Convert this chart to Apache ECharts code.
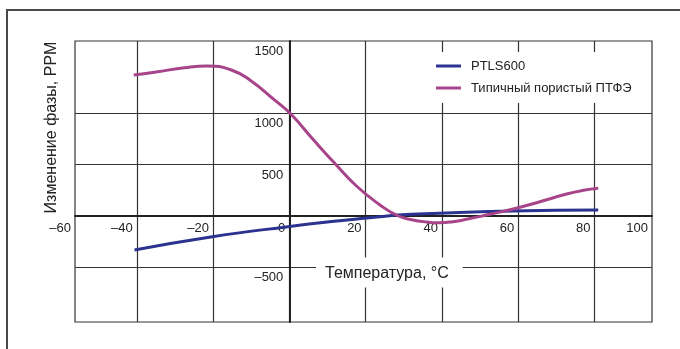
<!DOCTYPE html>
<html>
<head>
<meta charset="utf-8">
<script src="https://cdn.jsdelivr.net/npm/echarts@6/dist/echarts.min.js"></script>
<style>
  html, body { margin: 0; padding: 0; background: #fff; }
  #chart { width: 680px; height: 349px; }
</style>
</head>
<body>
<div id="chart"></div>
<script>
// ---- Data ----
const ptfeTemp  = [-40.8, -34.5, -27.5, -21.5, -15.2, -10, -3.9, 0.2, 6.2, 11.9, 17.6, 23.7, 28.3, 32.4, 36, 39.4, 42.9, 46.5, 52.6, 58.7, 65.7, 72.7, 77.1, 81];
const ptfeValue = [1373, 1405, 1444, 1461, 1422, 1315, 1130, 1000, 747, 513, 292, 110, 5, -39, -58, -65, -55, -32, 17, 68, 139, 214, 250, 270];
const ptlsTemp  = [-40.6, -20.2, -0.4, 13.2, 23.7, 28.4, 39.4, 58.6, 81];
const ptlsValue = [-331, -202, -104, -46, -7, 10, 26, 49, 58];

const seriesNames = ['PTLS600', 'Типичный пористый ПТФЭ'];
const xAxisTitle = 'Температура, °C';
const yAxisTitle = 'Изменение фазы, PPM';

// axis extents (the frame edges) and tick labels
const X_MIN = -56.2, X_MAX = 95.1;
const Y_MIN = -1032, Y_MAX = 1704;
const xGridValues = [-40, -20, 0, 20, 40, 60, 80];
const xLabelValues = [X_MIN, -40, -20, 0, 20, 40, 60, 80, X_MAX];
const xLabelTexts  = ['\u201360', '\u201340', '\u201320', '0', '20', '40', '60', '80', '100'];
const yGridValues = [-500, 0, 500, 1000];
const yLabelValues = [Y_MAX, 1000, 500, -500];
const yLabelTexts  = ['1500', '1000', '500', '\u2013500'];

function pairs(xs, ys) { return xs.map((x, i) => [x, ys[i]]); }
function lookup(vals, texts, v) {
  for (let i = 0; i < vals.length; i++) if (Math.abs(vals[i] - v) < 1e-6) return texts[i];
  return '';
}

const FONT = 'Liberation Sans, Arial, sans-serif';
const INK = '#222';
const GRIDC = '#333';

const W = 680, H = 349;
const G = { left: 75, right: 28, top: 41, bottom: 27 };
const gridW = W - G.left - G.right, gridH = H - G.top - G.bottom;
// move the axes onto the zero lines
const xAxisOffset = -((0 - Y_MIN) / (Y_MAX - Y_MIN)) * gridH;
const yAxisOffset = -((0 - X_MIN) / (X_MAX - X_MIN)) * gridW;

const chart = echarts.init(document.getElementById('chart'), null, { renderer: 'canvas' });
chart.setOption({
  animation: false,
  backgroundColor: '#fff',
  textStyle: { fontFamily: FONT },
  grid: {
    left: G.left, right: G.right, top: G.top, bottom: G.bottom,
    show: true, borderColor: GRIDC, borderWidth: 1.2,
    containLabel: false, outerBoundsMode: 'none'
  },
  title: {
    text: xAxisTitle,
    left: 316, top: 258,
    padding: [8, 14, 6, 9],
    backgroundColor: '#fff',
    textStyle: { fontFamily: FONT, fontSize: 16, fontWeight: 'normal', color: INK, lineHeight: 15 }
  },
  legend: {
    orient: 'vertical',
    left: 430, top: 52,
    padding: [6, 6, 7, 6],
    backgroundColor: '#fff',
    icon: 'rect',
    itemWidth: 25, itemHeight: 3,
    itemGap: 6,
    textStyle: { fontFamily: FONT, fontSize: 13, color: INK, lineHeight: 16, padding: [0, 0, 0, 5] },
    data: seriesNames
  },
  graphic: [
    { type: 'rect', z: 100, silent: true,
      shape: { x: 7, y: 10, width: 900, height: 600 },
      style: { fill: 'none', stroke: '#4a4a4a', lineWidth: 2 } },
    { type: 'text', z: 100, x: 52, y: 127.5, rotation: Math.PI / 2,
      style: { text: yAxisTitle, fontFamily: FONT, fontSize: 16, fill: INK, align: 'center', verticalAlign: 'middle' } }
  ],
  xAxis: {
    type: 'value', min: X_MIN, max: X_MAX,
    position: 'bottom', offset: xAxisOffset,
    axisLine: { show: true, onZero: false, lineStyle: { color: INK, width: 2 } },
    axisTick: { show: false, customValues: xGridValues },
    splitLine: { show: true, lineStyle: { color: GRIDC, width: 1.2 } },
    axisLabel: {
      customValues: xLabelValues,
      formatter: v => lookup(xLabelValues, xLabelTexts, v),
      fontFamily: FONT, fontSize: 13, color: INK,
      align: 'right', verticalAlign: 'top', margin: 6, padding: [0, 4, 0, 0]
    }
  },
  yAxis: {
    type: 'value', min: Y_MIN, max: Y_MAX,
    position: 'left', offset: yAxisOffset,
    axisLine: { show: true, onZero: false, lineStyle: { color: INK, width: 2 } },
    axisTick: { show: false, customValues: yGridValues },
    splitLine: { show: true, lineStyle: { color: GRIDC, width: 1.2 } },
    axisLabel: {
      customValues: yLabelValues,
      formatter: v => lookup(yLabelValues, yLabelTexts, v),
      fontFamily: FONT, fontSize: 13, color: INK,
      align: 'right', verticalAlign: 'top', margin: 6, padding: [4, 0, 0, 0]
    }
  },
  series: [
    { name: seriesNames[0], type: 'line', data: pairs(ptlsTemp, ptlsValue),
      smooth: 0.5, showSymbol: false, color: '#2b3290',
      lineStyle: { width: 3, color: '#2b3290' } },
    { name: seriesNames[1], type: 'line', data: pairs(ptfeTemp, ptfeValue),
      smooth: 0.5, showSymbol: false, color: '#a8448a',
      lineStyle: { width: 3, color: '#a8448a' } }
  ]
});
</script>
</body>
</html>
